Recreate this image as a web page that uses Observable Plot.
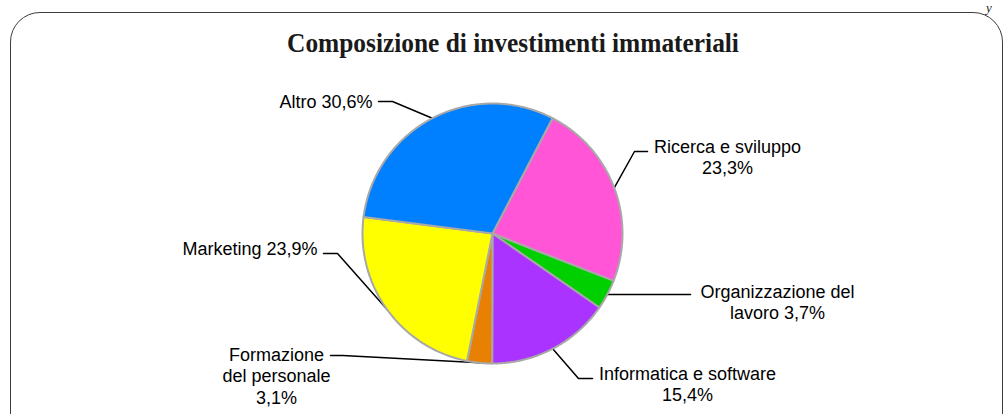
<!DOCTYPE html>
<html>
<head>
<meta charset="utf-8">
<script src="https://cdn.jsdelivr.net/npm/d3@7"></script>
<script src="https://cdn.jsdelivr.net/npm/@observablehq/plot@0.6"></script>
<style>
  html, body { margin: 0; padding: 0; background: #fff; }
  #wrap { position: relative; width: 1004px; height: 414px; overflow: hidden; background: #fff; }
  #box { position: absolute; left: 10px; top: 12px; width: 993px; height: 440px;
         border: 1.5px solid #3c3c3c; border-radius: 30px; box-sizing: border-box; }
  #title { position: absolute; left: 0; top: 30px; width: 1026px; text-align: center;
           font-family: "Liberation Serif", "Times New Roman", serif; font-weight: bold;
           font-size: 27px; line-height: 27px; color: #1a1a1a;
           transform: scaleX(0.94); transform-origin: 513px 0; }
  #frag { position: absolute; left: 986px; top: 1px; font-family: "Liberation Serif", serif;
          font-style: italic; font-size: 13px; line-height: 13px; color: #222; }
  #chart { position: absolute; left: 0; top: 0; }
</style>
</head>
<body>
<div id="wrap">
  <div id="box"></div>
  <div id="frag">y</div>
  <div id="title">Composizione di investimenti immateriali</div>
  <div id="chart"></div>
</div>
<script>
// ---- data ----
const names = ["Ricerca e sviluppo", "Organizzazione del lavoro", "Informatica e software",
               "Formazione del personale", "Marketing", "Altro"];
const values = [23.3, 3.7, 15.4, 3.1, 23.9, 30.6];
const labelTemplates = ["Ricerca e sviluppo\n{v}", "Organizzazione del\nlavoro {v}",
                        "Informatica e software\n{v}", "Formazione\ndel personale\n{v}",
                        "Marketing {v}", "Altro {v}"];
const colors = ["#FF55D6", "#00D000", "#AA33FF", "#E88004", "#FFFF00", "#0080FF"];

// ---- layout (not data) ----
const cx = 492, cy = 233, R = 130;
const startDeg = 27.5;
const labelLayout = {
  "Ricerca e sviluppo":        {elbow: [634, 151], end: [647, 151], text: [727, 156], anchor: "middle"},
  "Organizzazione del lavoro": {elbow: null,       end: [690, null], text: [777, 301], anchor: "middle"},
  "Informatica e software":    {elbow: [578, 378], end: [592, 378], text: [687, 383], anchor: "middle"},
  "Formazione del personale":  {elbow: [342, 355], end: [330, 355], text: [276, 375], anchor: "middle"},
  "Marketing":                 {elbow: [337, 253], end: [323, 253], text: [317, 248], anchor: "end"},
  "Altro":                     {elbow: [392, 101], end: [378, 101], text: [372, 101], anchor: "end"}
};

const fmt = v => d3.format(".1f")(v).replace(".", ",") + "%";
const data = names.map((n, i) => ({name: n, value: values[i], label: labelTemplates[i].replace("{v}", fmt(values[i]))}));

const arcs = d3.pie().sort(null).value(d => d.value)
  .startAngle(startDeg * Math.PI / 180)
  .endAngle(startDeg * Math.PI / 180 + 2 * Math.PI)(data);

const px = a => cx + R * Math.sin(a);
const py = a => cy - R * Math.cos(a);

// slice polygons
const slicePts = [];
for (const a of arcs) {
  const n = a.data.name;
  slicePts.push({name: n, x: cx, y: cy});
  const steps = Math.max(4, Math.ceil((a.endAngle - a.startAngle) / 0.01));
  for (let k = 0; k <= steps; k++) {
    const t = a.startAngle + (a.endAngle - a.startAngle) * k / steps;
    slicePts.push({name: n, x: px(t), y: py(t)});
  }
}

// leader lines and labels
const leaderPts = [];
const labelPts = [];
for (const a of arcs) {
  const n = a.data.name;
  const L = labelLayout[n];
  const mid = (a.startAngle + a.endAngle) / 2;
  const ex = px(mid), ey = py(mid);
  leaderPts.push({name: n, x: ex, y: ey});
  if (L.elbow) leaderPts.push({name: n, x: L.elbow[0], y: L.elbow[1]});
  leaderPts.push({name: n, x: L.end[0], y: L.end[1] == null ? ey : L.end[1]});
  labelPts.push({name: n, label: a.data.label, x: L.text[0], y: L.text[1], anchor: L.anchor});
}

const chart = Plot.plot({
  width: 1004,
  height: 414,
  margin: 0,
  x: {domain: [0, 1004], range: [0, 1004], axis: null},
  y: {domain: [0, 414], range: [0, 414], axis: null},
  color: {domain: names, range: colors},
  style: {background: "transparent", fontFamily: "'Liberation Sans', Arial, sans-serif"},
  marks: [
    Plot.line(leaderPts, {x: "x", y: "y", z: "name", stroke: "#000", strokeWidth: 1.5}),
    Plot.line(slicePts, {x: "x", y: "y", z: "name", fill: "name", stroke: "#a8a8a8",
                         strokeWidth: 2, strokeLinejoin: "round", curve: "linear-closed"}),
    Plot.text(labelPts.filter(d => d.anchor === "middle"), {x: "x", y: "y", text: "label",
      textAnchor: "middle", lineAnchor: "middle", lineHeight: 1.2, fontSize: 18, fill: "#000"}),
    Plot.text(labelPts.filter(d => d.anchor === "end"), {x: "x", y: "y", text: "label",
      textAnchor: "end", lineAnchor: "middle", lineHeight: 1.2, fontSize: 18, fill: "#000"})
  ]
});
document.getElementById("chart").appendChild(chart);
</script>
</body>
</html>
